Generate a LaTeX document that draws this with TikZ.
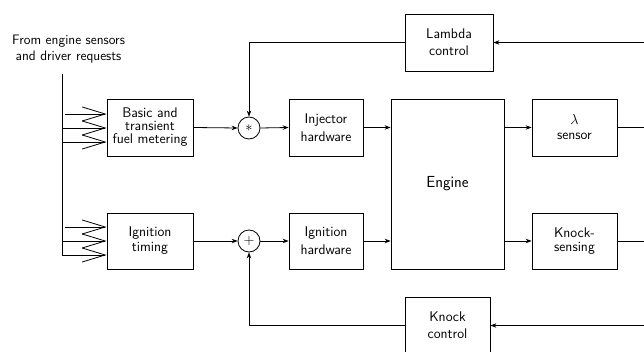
\documentclass[tikz,border=0pt]{standalone}
\usetikzlibrary{arrows.meta}
\begin{document}
\begin{tikzpicture}[x=1pt,y=-1pt,
  font=\sffamily\fontsize{14}{16}\selectfont,
  line width=0.8pt,
  box/.style={draw, rectangle, align=center, inner sep=1pt},
  sumnode/.style={draw, circle, minimum size=22pt, inner sep=0pt},
  arr/.style={-{Stealth[length=6pt,width=4.5pt,inset=2pt]}},
  bigarr/.style={-{Straight Barb[length=23pt,width=14pt,line width=0.8pt]}}]
\clip (0,0) rectangle (644,352);

\node (from) at (68.5,49.5) [align=center, font=\sffamily\fontsize{13.7}{16}\selectfont] {From engine sensors\\and driver requests};

\node[box, minimum width=86pt, minimum height=57pt, font=\sffamily\fontsize{14}{13}\selectfont] (fuel) at (150,127.5) {Basic and\\transient\\fuel metering};
\node[box, minimum width=86pt, minimum height=56pt, font=\sffamily\fontsize{14}{15}\selectfont] (timing) at (150,241) {Ignition\\timing};
\node[sumnode] (sum1) at (249,128) {$\ast$};
\node[sumnode] (sum2) at (249,241) {$+$};
\node[box, minimum width=74pt, minimum height=57pt, font=\sffamily\fontsize{14}{18}\selectfont] (inj) at (326,127.5) {Injector\\hardware};
\node[box, minimum width=74pt, minimum height=56pt, font=\sffamily\fontsize{14}{18}\selectfont] (ign) at (326,241) {Ignition\\hardware};
\node[box, minimum width=113pt, minimum height=170pt, font=\sffamily\fontsize{16}{18}\selectfont] (engine) at (447.5,184) {Engine};
\node[box, minimum width=85pt, minimum height=57pt, font=\sffamily\fontsize{14}{15}\selectfont] (lsens) at (574.5,127.5) {$\lambda$\\sensor};
\node[box, minimum width=85pt, minimum height=56pt, font=\sffamily\fontsize{14}{14}\selectfont] (ksens) at (574.5,241) {Knock-\\sensing};
\node[box, minimum width=88pt, minimum height=57pt, font=\sffamily\fontsize{14}{17}\selectfont] (lctrl) at (449,42.5) {Lambda\\control};
\node[box, minimum width=85pt, minimum height=57pt, font=\sffamily\fontsize{14}{17}\selectfont] (kctrl) at (447.5,325.5) {Knock\\control};

% input bus
\coordinate (bustop) at (62,74);
\coordinate (buscorner) at (62,255);
\coordinate (f1) at (65,114);
\coordinate (f2) at (62,128);
\coordinate (f3) at (62,142);
\coordinate (t1) at (65,227);
\coordinate (t2) at (62,241);
\draw (bustop) -- (buscorner);
\draw[bigarr] (f1) -- (fuel.west |- f1);
\draw[bigarr] (f2) -- (fuel.west |- f2);
\draw[bigarr] (f3) -- (fuel.west |- f3);
\draw[bigarr] (t1) -- (timing.west |- t1);
\draw[bigarr] (t2) -- (timing.west |- t2);
\draw[bigarr] (buscorner) -- (timing.west |- buscorner);

% forward paths
\draw[arr] (fuel.east) -- (sum1.west);
\draw[arr] (timing.east) -- (sum2.west);
\draw[arr] (sum1.east) -- (inj.west);
\draw[arr] (sum2.east) -- (ign.west);
\draw[arr] (inj.east) -- (engine.west |- inj.east);
\draw[arr] (ign.east) -- (engine.west |- ign.east);
\draw[arr] (engine.east |- lsens.west) -- (lsens.west);
\draw[arr] (engine.east |- ksens.west) -- (ksens.west);

% outputs to right edge
\coordinate (lout) at (644,127.5);
\coordinate (kout) at (644,241);
\draw (lsens.east) -- (lout);
\draw (ksens.east) -- (kout);

% feedback
\coordinate (lin) at (644,42.5);
\coordinate (kin) at (644,325.5);
\draw[arr] (lin) -- (lctrl.east);
\draw[arr] (kin) -- (kctrl.east);
\draw[arr] (lctrl.west) -| (sum1.north);
\draw[arr] (kctrl.west) -| (sum2.south);
\end{tikzpicture}
\end{document}
